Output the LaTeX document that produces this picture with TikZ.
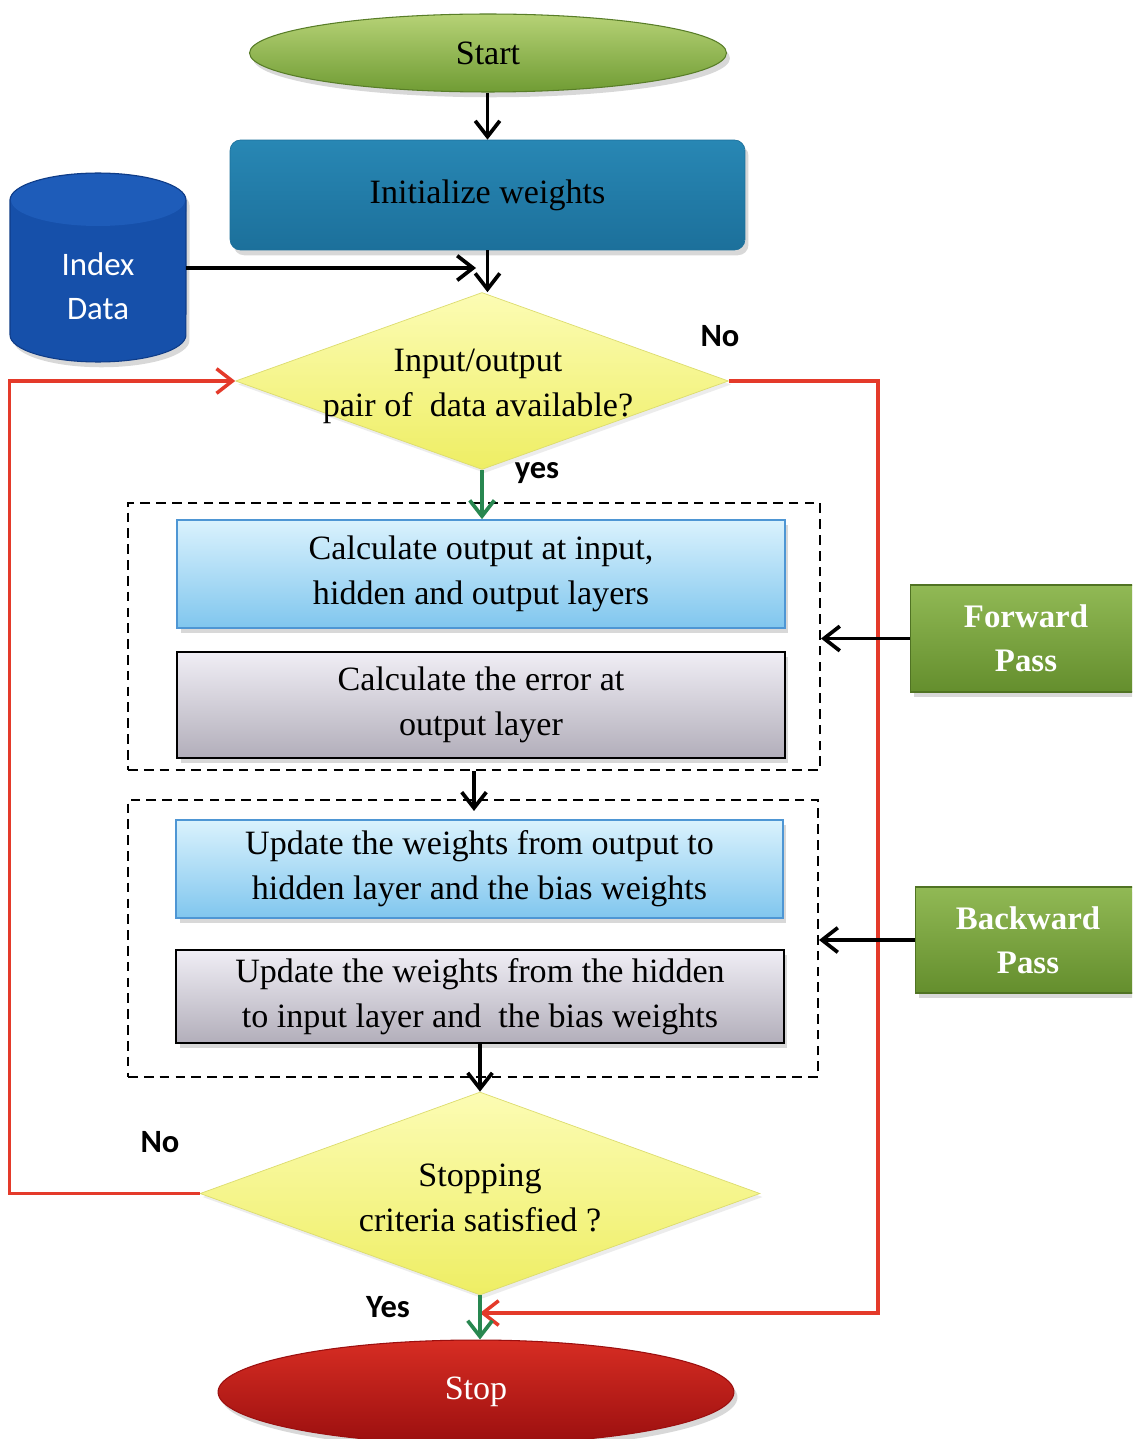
\documentclass[tikz,border=0pt]{standalone}
\usepackage{fontspec}
\setmainfont{Liberation Serif}
\newfontfamily\calib{Carlito}
\usetikzlibrary{shapes.geometric,arrows.meta,shadows,calc}
\definecolor{startA}{RGB}{182,210,118}
\definecolor{startB}{RGB}{112,156,52}
\definecolor{startD}{RGB}{88,125,40}
\definecolor{initA}{RGB}{40,135,180}
\definecolor{initB}{RGB}{28,112,155}
\definecolor{idxC}{RGB}{22,80,170}
\definecolor{idxT}{RGB}{30,92,185}
\definecolor{idxD}{RGB}{15,60,135}
\definecolor{yelA}{RGB}{252,252,180}
\definecolor{yelB}{RGB}{238,238,100}
\definecolor{yelD}{RGB}{220,220,110}
\definecolor{blueA}{RGB}{218,242,253}
\definecolor{blueB}{RGB}{128,198,238}
\definecolor{blueD}{RGB}{78,150,212}
\definecolor{grayA}{RGB}{240,238,245}
\definecolor{grayB}{RGB}{178,174,186}
\definecolor{passA}{RGB}{145,185,85}
\definecolor{passB}{RGB}{100,142,45}
\definecolor{passD}{RGB}{80,115,35}
\definecolor{redA}{RGB}{215,45,35}
\definecolor{redB}{RGB}{155,15,15}
\definecolor{redL}{RGB}{228,58,42}
\definecolor{grnL}{RGB}{40,135,80}
\tikzset{
  txt/.style={font=\fontsize{19.4}{25.5}\selectfont, align=center, inner sep=0pt},
  lab/.style={font=\calib\bfseries\fontsize{18.5}{22}\selectfont, inner sep=0pt},
  shadowed/.style={drop shadow={shadow xshift=2pt, shadow yshift=-3pt, opacity=0.3}},
  softshadow/.style={drop shadow={shadow xshift=1.5pt, shadow yshift=-2pt, opacity=0.15}},
  arr/.style={line width=2.1pt, -{Straight Barb[length=9pt,width=14pt]}},
  grnarr/.style={draw=grnL, line width=2.1pt, -{Straight Barb[length=9pt,width=14pt]}},
  redline/.style={draw=redL, line width=2pt, -{Straight Barb[length=9pt,width=14pt]}},
  dashbox/.style={draw, line width=1.2pt, dash pattern=on 5.5pt off 3.5pt, inner sep=0pt},
  startnode/.style={ellipse, txt, shadowed, top color=startA, bottom color=startB, draw=startD, line width=0.6pt},
  initnode/.style={rectangle, rounded corners=6pt, txt, shadowed, top color=initA, bottom color=initB, draw=initB},
  dia/.style={diamond, inner sep=0pt, softshadow, top color=yelA, bottom color=yelB, draw=yelD, line width=0.4pt},
  bluebox/.style={rectangle, txt, shadowed, top color=blueA, bottom color=blueB, draw=blueD, line width=1pt},
  graybox/.style={rectangle, txt, shadowed, top color=grayA, bottom color=grayB, draw=black, line width=1.2pt},
  passbox/.style={rectangle, txt, font=\bfseries\fontsize{18.7}{25}\selectfont, text=white, shadowed, top color=passA, bottom color=passB, draw=passD, line width=0.6pt},
  stopnode/.style={ellipse, txt, text=white, shadowed, top color=redA, bottom color=redB, draw=redB, line width=0.6pt}
}
\begin{document}
\begin{tikzpicture}[x=0.02cm,y=-0.02cm]
\clip (0,0) rectangle (1132,1439);
\fill[white] (0,0) rectangle (1132,1439);

% dashed group boxes
\node[dashbox, minimum width=13.84cm, minimum height=5.34cm] (dash1) at (474,636.5) {};
\node[dashbox, minimum width=13.80cm, minimum height=5.54cm] (dash2) at (473,938.5) {};

% main nodes
\node[startnode, minimum width=9.54cm, minimum height=1.56cm] (start) at (488,53) {Start};
\node[initnode, minimum width=10.3cm, minimum height=2.2cm] (init) at (487.5,195) {Initialize weights};

% Index Data cylinder
\path[fill=idxC, draw=idxD, line width=0.6pt, shadowed] (10,200) -- (10,335)
  arc[start angle=180,end angle=360,x radius=1.76cm,y radius=0.54cm] -- (186,200)
  arc[start angle=0,end angle=180,x radius=1.76cm,y radius=0.54cm] -- cycle;
\fill[idxT] (98,200) ellipse[x radius=1.74cm, y radius=0.52cm];
\node[inner sep=0pt, minimum width=3.52cm, minimum height=3.78cm] (idx) at (98,268) {};
\node[txt, font=\calib\fontsize{18.7}{25}\selectfont, text=white] (idxt) at (98,286) {Index\\Data};

\node[dia, minimum width=9.86cm, minimum height=3.54cm] (d1) at (482,381) {};
\node[txt] (d1t) at (478,386) {Input/output\\pair of\ \ data available?};

\node[bluebox, minimum width=12.16cm, minimum height=2.16cm] (b1) at (481,574) {Calculate output at input,\\hidden and output layers};
\node[graybox, minimum width=12.16cm, minimum height=2.12cm] (g1) at (481,705) {Calculate the error at\\output layer};
\node[bluebox, minimum width=12.14cm, minimum height=1.96cm] (b2) at (479.5,869) {Update the weights from output to\\hidden layer and the bias weights};
\node[graybox, minimum width=12.16cm, minimum height=1.86cm] (g2) at (480,996.5) {Update the weights from the hidden\\to input layer and\ \ the bias weights};

\node[dia, minimum width=11.2cm, minimum height=4.06cm] (d2) at (480,1193.5) {};
\node[txt] (d2t) at (480,1198) {Stopping\\criteria satisfied ?};

\node[stopnode, minimum width=10.32cm, minimum height=2.08cm] (stop) at (476,1392) {Stop};

\node[passbox, minimum width=4.64cm, minimum height=2.14cm] (fwd) at (1026,638.5) {Forward\\Pass};
\node[passbox, minimum width=4.52cm, minimum height=2.12cm] (bwd) at (1028,940) {Backward\\Pass};

% labels
\node[lab] (no1) at (720,336) {No};
\node[lab] (yes1) at (537,473) {yes};
\node[lab] (no2) at (160,1142) {No};
\node[lab] (yes2) at (388,1307) {Yes};

% red loop lines
\coordinate (j2) at ($(d2.south)!0.4!(d2.south |- stop.north)$);
\draw[redline] (d1.east) -- ++(149,0) |- (j2);
\draw[redline] (d2.west) -- ++(-190,0) |- (d1.west);

% connectors
\coordinate (m1) at (476,268);
\draw[arr] (start.south -| init.north) -- (init.north);
\draw[arr] (idx.east) -- (m1);
\draw[arr] (init.south) -- (init.south |- d1.north);
\draw[grnarr] (d1.south) -- (d1.south |- b1.north);
\draw[arr, shorten >=-0.24cm] (dash1.south) -- (dash1.south |- dash2.north);
\draw[arr] (g2.south) -- (g2.south |- d2.north);
\draw[grnarr] (d2.south) -- (d2.south |- stop.north);
\draw[arr] (fwd.west) -- (fwd.west -| dash1.east);
\draw[arr] (bwd.west) -- (bwd.west -| dash2.east);
\end{tikzpicture}
\end{document}
